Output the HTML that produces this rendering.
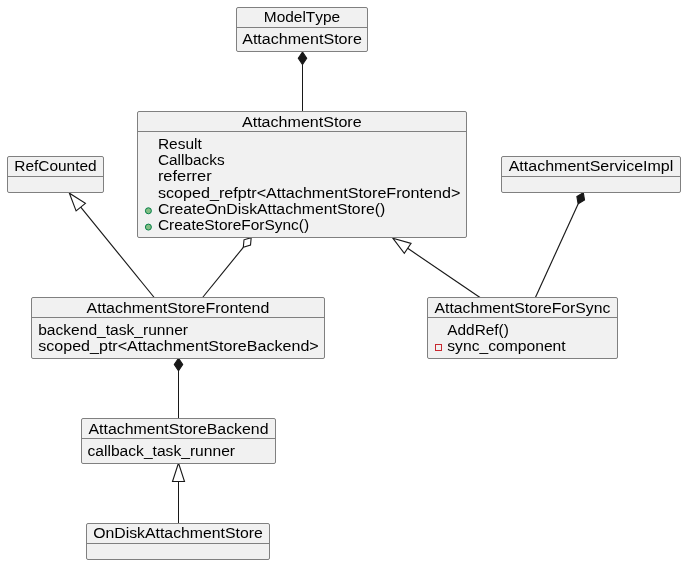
<!DOCTYPE html>
<html><head><meta charset="utf-8"><style>
html,body{margin:0;padding:0;background:#fff;width:685px;height:564px;overflow:hidden}
svg{display:block;will-change:transform}
text{font-family:"Liberation Sans", sans-serif;font-size:14px;fill:#000;font-kerning:none}
</style></head><body>
<svg width="685" height="564" viewBox="0 0 685 564">
<polygon points="302.50,52.00 298.30,58.25 302.50,64.50 306.70,58.25" fill="#181818" stroke="#181818" stroke-width="1.1"/>
<line x1="302.50" y1="64.50" x2="302.50" y2="111.50" stroke="#181818" stroke-width="1"/>
<polygon points="69.40,193.20 76.10,210.95 85.41,203.38" fill="none" stroke="#181818" stroke-width="1.1"/>
<line x1="80.76" y1="207.17" x2="154.20" y2="297.50" stroke="#181818" stroke-width="1.15"/>
<polygon points="251.20,237.60 244.00,239.81 243.32,247.31 250.52,245.10" fill="#FFFFFF" stroke="#181818" stroke-width="1.1"/>
<line x1="243.32" y1="247.31" x2="202.60" y2="297.50" stroke="#181818" stroke-width="1.15"/>
<polygon points="392.80,238.20 404.31,253.28 411.06,243.36" fill="none" stroke="#181818" stroke-width="1.1"/>
<line x1="407.68" y1="248.32" x2="480.00" y2="297.50" stroke="#181818" stroke-width="1.15"/>
<polygon points="583.30,192.60 576.88,196.54 578.11,203.97 584.52,200.03" fill="#181818" stroke="#181818" stroke-width="1.1"/>
<line x1="578.11" y1="203.97" x2="535.40" y2="297.50" stroke="#181818" stroke-width="1.15"/>
<polygon points="178.50,358.20 174.30,364.45 178.50,370.70 182.70,364.45" fill="#181818" stroke="#181818" stroke-width="1.1"/>
<line x1="178.50" y1="370.70" x2="178.50" y2="418.50" stroke="#181818" stroke-width="1"/>
<polygon points="178.50,463.00 172.50,481.50 184.50,481.50" fill="none" stroke="#181818" stroke-width="1.1"/>
<line x1="178.50" y1="481.50" x2="178.50" y2="523.50" stroke="#181818" stroke-width="1"/>
<rect x="236.5" y="7.5" width="131" height="44" rx="1.5" ry="1.5" fill="#F1F1F1" stroke="#808080" stroke-width="1"/>
<line x1="236.5" y1="27.5" x2="367.5" y2="27.5" stroke="#808080" stroke-width="1"/>
<text x="263.83" y="21.90" textLength="76.37" lengthAdjust="spacingAndGlyphs">ModelType</text>
<text x="242.20" y="44.30" textLength="119.63" lengthAdjust="spacingAndGlyphs">AttachmentStore</text>
<rect x="137.5" y="111.5" width="329" height="126" rx="1.5" ry="1.5" fill="#F1F1F1" stroke="#808080" stroke-width="1"/>
<line x1="137.5" y1="131.5" x2="466.5" y2="131.5" stroke="#808080" stroke-width="1"/>
<text x="241.99" y="126.50" textLength="119.63" lengthAdjust="spacingAndGlyphs">AttachmentStore</text>
<text x="157.90" y="148.90" textLength="43.89" lengthAdjust="spacingAndGlyphs">Result</text>
<text x="157.90" y="165.19" textLength="66.70" lengthAdjust="spacingAndGlyphs">Callbacks</text>
<text x="157.90" y="181.49" textLength="53.79" lengthAdjust="spacingAndGlyphs">referrer</text>
<text x="157.90" y="197.79" textLength="302.57" lengthAdjust="spacingAndGlyphs">scoped_refptr&lt;AttachmentStoreFrontend&gt;</text>
<text x="157.90" y="214.08" textLength="227.34" lengthAdjust="spacingAndGlyphs">CreateOnDiskAttachmentStore()</text>
<circle cx="148.40" cy="210.78" r="3" fill="#84BE84" stroke="#038048" stroke-width="1"/>
<text x="157.90" y="230.38" textLength="151.18" lengthAdjust="spacingAndGlyphs">CreateStoreForSync()</text>
<circle cx="148.40" cy="227.08" r="3" fill="#84BE84" stroke="#038048" stroke-width="1"/>
<rect x="7.5" y="156.5" width="96" height="36" rx="1.5" ry="1.5" fill="#F1F1F1" stroke="#808080" stroke-width="1"/>
<line x1="7.5" y1="176.5" x2="103.5" y2="176.5" stroke="#808080" stroke-width="1"/>
<text x="14.30" y="171.40" textLength="82.35" lengthAdjust="spacingAndGlyphs">RefCounted</text>
<rect x="501.5" y="156.5" width="179" height="36" rx="1.5" ry="1.5" fill="#F1F1F1" stroke="#808080" stroke-width="1"/>
<line x1="501.5" y1="176.5" x2="680.5" y2="176.5" stroke="#808080" stroke-width="1"/>
<text x="508.70" y="171.40" textLength="164.60" lengthAdjust="spacingAndGlyphs">AttachmentServiceImpl</text>
<rect x="31.5" y="297.5" width="293" height="61" rx="1.5" ry="1.5" fill="#F1F1F1" stroke="#808080" stroke-width="1"/>
<line x1="31.5" y1="317.5" x2="324.5" y2="317.5" stroke="#808080" stroke-width="1"/>
<text x="86.59" y="313.00" textLength="182.74" lengthAdjust="spacingAndGlyphs">AttachmentStoreFrontend</text>
<text x="38.20" y="334.50" textLength="149.86" lengthAdjust="spacingAndGlyphs">backend_task_runner</text>
<text x="38.20" y="350.79" textLength="280.53" lengthAdjust="spacingAndGlyphs">scoped_ptr&lt;AttachmentStoreBackend&gt;</text>
<rect x="427.5" y="297.5" width="190" height="61" rx="1.5" ry="1.5" fill="#F1F1F1" stroke="#808080" stroke-width="1"/>
<line x1="427.5" y1="317.5" x2="617.5" y2="317.5" stroke="#808080" stroke-width="1"/>
<text x="434.60" y="313.00" textLength="175.75" lengthAdjust="spacingAndGlyphs">AttachmentStoreForSync</text>
<text x="447.30" y="334.50" textLength="61.54" lengthAdjust="spacingAndGlyphs">AddRef()</text>
<text x="447.30" y="350.79" textLength="118.35" lengthAdjust="spacingAndGlyphs">sync_component</text>
<rect x="435.50" y="344.50" width="6" height="6" fill="none" stroke="#C82930" stroke-width="1"/>
<rect x="81.5" y="418.5" width="194" height="45" rx="1.5" ry="1.5" fill="#F1F1F1" stroke="#808080" stroke-width="1"/>
<line x1="81.5" y1="438.5" x2="275.5" y2="438.5" stroke="#808080" stroke-width="1"/>
<text x="88.50" y="433.50" textLength="179.99" lengthAdjust="spacingAndGlyphs">AttachmentStoreBackend</text>
<text x="87.50" y="455.90" textLength="147.54" lengthAdjust="spacingAndGlyphs">callback_task_runner</text>
<rect x="86.5" y="523.5" width="183" height="36" rx="1.5" ry="1.5" fill="#F1F1F1" stroke="#808080" stroke-width="1"/>
<line x1="86.5" y1="543.5" x2="269.5" y2="543.5" stroke="#808080" stroke-width="1"/>
<text x="93.20" y="538.30" textLength="169.59" lengthAdjust="spacingAndGlyphs">OnDiskAttachmentStore</text>
</svg>
</body></html>
